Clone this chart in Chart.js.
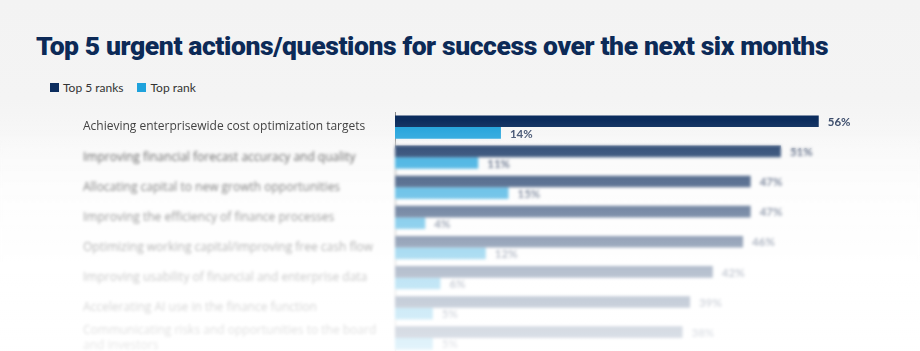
<!DOCTYPE html>
<html>
<head>
<meta charset="utf-8">
<script src="https://cdn.jsdelivr.net/npm/chart.js@4.4.1/dist/chart.umd.min.js"></script>
<style>
  html, body { margin: 0; padding: 0; width: 920px; height: 351px; overflow: hidden; }
  body { background: linear-gradient(to bottom, #f3f3f3 0px, #f4f4f4 100px, #fcfcfc 190px, #ffffff 351px); font-family: Lato, "Noto Sans", sans-serif; position: relative; }
  #title { position: absolute; left: 36px; top: 30px; margin: 0; font: 900 26.5px Roboto, sans-serif; color: #0c2a57; letter-spacing: -0.4px; white-space: nowrap; }
  #legend { position: absolute; left: 50px; top: 80px; font: 12px Lato, sans-serif; color: #333; display: flex; gap: 14px; }
  #legend span { display: inline-flex; align-items: center; }
  #legend i { display: inline-block; width: 9px; height: 9px; margin-right: 4px; }
  #wrap { position: absolute; left: 0; top: 0; width: 920px; height: 370px; }
  #blur { position: absolute; left: 0; top: 0; width: 920px; height: 370px; pointer-events: none;
    backdrop-filter: blur(1.8px);
    -webkit-mask-image: linear-gradient(to bottom, rgba(0,0,0,0) 0px, rgba(0,0,0,0) 138px, rgba(0,0,0,1) 150px);
    mask-image: linear-gradient(to bottom, rgba(0,0,0,0) 0px, rgba(0,0,0,0) 138px, rgba(0,0,0,1) 150px); }
  #fade { position: absolute; left: 0; top: 0; width: 920px; height: 370px; pointer-events: none;
    background: linear-gradient(to bottom, rgba(255,255,255,0) 0px, rgba(255,255,255,0) 120px, rgba(255,255,255,0.2) 150px, rgba(255,255,255,0.45) 210px, rgba(255,255,255,0.7) 270px, rgba(255,255,255,0.88) 351px); }
</style>
</head>
<body>
<h1 id="title">Top 5 urgent actions/questions for success over the next six months</h1>
<div id="legend">
  <span><i style="background:#0c2d5e"></i>Top 5 ranks</span>
  <span><i style="background:#1ea2dc"></i>Top rank</span>
</div>
<div id="wrap"><canvas id="chart" width="920" height="370"></canvas></div>
<div id="blur"></div>
<div id="fade"></div>
<script>
// Categories and values
const actions = [
    "Achieving enterprisewide cost optimization targets",
    "Improving financial forecast accuracy and quality",
    "Allocating capital to new growth opportunities",
    "Improving the efficiency of finance processes",
    "Optimizing working capital/improving free cash flow",
    "Improving usability of financial and enterprise data",
    "Accelerating AI use in the finance function",
    ["Communicating risks and opportunities to the board", "and investors"]
];
const top5Ranks = [56, 51, 47, 47, 46, 42, 39, 38];
const topRank = [14, 11, 15, 4, 12, 6, 5, 5];

// Draws the % label just past the end of each bar
const valueLabels = {
    id: 'valueLabels',
    afterDatasetsDraw(chart) {
        const ctx = chart.ctx;
        ctx.save();
        ctx.font = 'bold 11.5px Lato, sans-serif';
        ctx.fillStyle = '#3b4c6b';
        ctx.textBaseline = 'middle';
        chart.data.datasets.forEach((ds, i) => {
            chart.getDatasetMeta(i).data.forEach((bar, j) => {
                ctx.fillText(ds.data[j] + '%', bar.x + 9, bar.y + 1);
            });
        });
        ctx.restore();
    }
};

new Chart(document.getElementById('chart'), {
    type: 'bar',
    data: {
        labels: actions,
        datasets: [
            { label: 'Top 5 ranks', data: top5Ranks, backgroundColor: '#0c2d5e' },
            { label: 'Top rank', data: topRank, backgroundColor: '#1ea2dc' }
        ]
    },
    options: {
        indexAxis: 'y',
        responsive: false,
        animation: false,
        layout: { padding: { left: 83, right: 71, top: 112, bottom: 17 } },
        categoryPercentage: 0.77,
        barPercentage: 1,
        scales: {
            x: { display: false, min: 0, max: 60 },
            y: {
                grid: { display: false },
                border: { display: true, color: '#8a8a8a', width: 1 },
                ticks: {
                    autoSkip: false,
                    crossAlign: 'far',
                    color: '#3a3a3a',
                    font: { family: 'Open Sans', size: 12 },
                    padding: 0
                },
                afterFit(scale) { scale.width = 312; }
            }
        },
        plugins: {
            legend: { display: false },
            tooltip: { enabled: false }
        }
    },
    plugins: [valueLabels]
});
</script>
</body>
</html>
